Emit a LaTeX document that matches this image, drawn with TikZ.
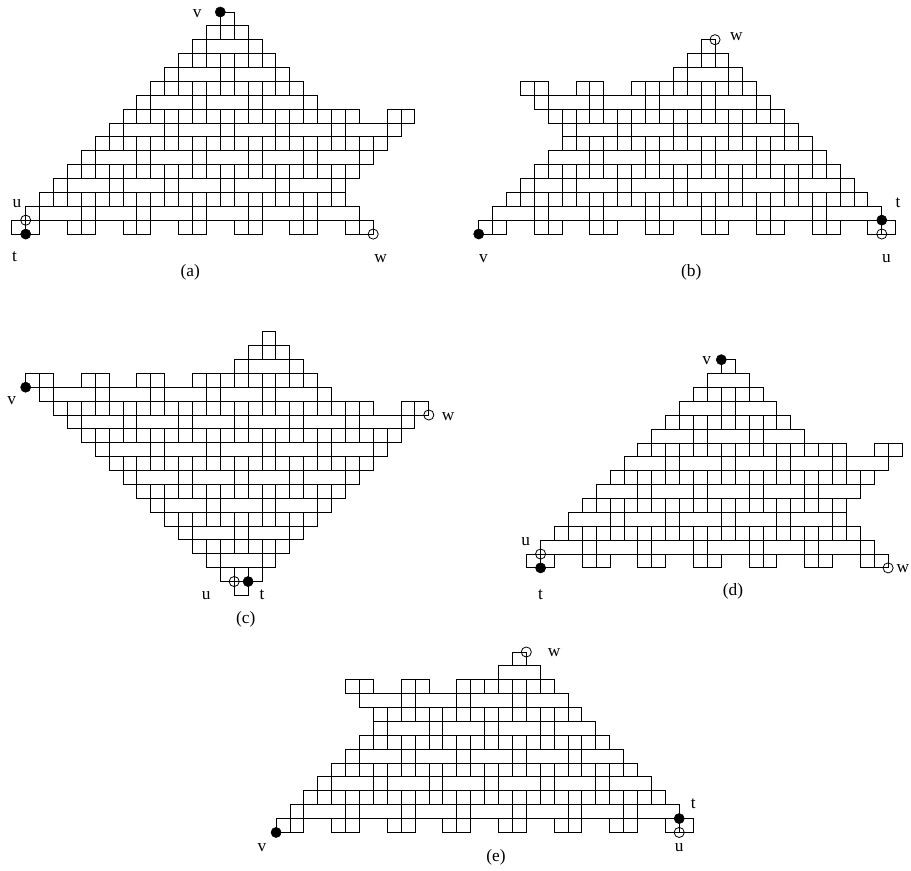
\documentclass[tikz,border=0pt]{standalone}
\usepackage{fontspec}
\setmainfont{Liberation Serif}
\usetikzlibrary{positioning}

% one row of bricks: row, horizontal pieces, columns of the verticals below it
\newcommand{\brickrow}[3]{%
  \foreach \from/\upto in {#2}{\draw[wall] (\from,#1) -- (\upto,#1);}%
  \foreach \col in {#3}{\draw[wall] (\col,#1) -- (\col,#1+1);}%
}
\newcommand{\bricklast}[2]{%
  \foreach \from/\upto in {#2}{\draw[wall] (\from,#1) -- (\upto,#1);}%
}

\begin{document}
\begin{tikzpicture}[
    x=0.75pt, y=-0.75pt,
    panel/.style={shift={#1}, x=10.425pt, y=-10.41pt},
    wall/.style={line width=0.65pt, black, line cap=rect},
    blackdot/.style={circle, fill=black, draw=black, inner sep=0pt, minimum size=7.6pt},
    whitedot/.style={circle, draw=black, line width=0.6pt, inner sep=0pt, minimum size=7.6pt},
    lbl/.style={inner sep=0pt, font=\fontsize{13}{13}\selectfont}
]
    \useasboundingbox (0,0) rectangle (911,871);

    % (a)
    \begin{scope}[panel={(220.3,12)}]
        \brickrow{0}{0/1}{0,1}
        \brickrow{1}{-1/2}{-1,...,2}
        \brickrow{2}{-2/3}{-2,-1,2,3}
        \brickrow{3}{-3/4}{-3,...,4}
        \brickrow{4}{-4/5}{-4,-3,0,1,4,5}
        \brickrow{5}{-5/6}{-5,...,6}
        \brickrow{6}{-6/7}{-6,-5,-2,-1,2,3,6,7}
        \brickrow{7}{-7/10,12/14}{-7,...,10,12,13,14}
        \brickrow{8}{-8/14}{-8,-7,-4,-3,0,1,4,5,8,9,12,13}
        \brickrow{9}{-9/13}{-9,...,12}
        \brickrow{10}{-10/12}{-10,-9,-6,-5,-2,-1,2,3,6,7,10,11}
        \brickrow{11}{-11/11}{-11,...,10}
        \brickrow{12}{-12/10}{-12,-11,-8,-7,-4,-3,0,1,4,5,8,9}
        \brickrow{13}{-13/9}{-13,...,9}
        \brickrow{14}{-14/10}{-14,-13,-10,-9,-6,-5,-2,-1,2,3,6,7,10}
        \brickrow{15}{-15/11}{-15,-14,-13,-11,-10,-9,-7,-6,-5,-3,-2,-1,1,2,3,5,6,7,9,10,11}
        \bricklast{16}{-15/-13,-11/-9,-7/-5,-3/-1,1/3,5/7,9/11}
        \node[blackdot] (va) at (0,0) {};
        \node[whitedot] (ua) at (-14,15) {};
        \node[blackdot] (ta) at (-14,16) {};
        \node[whitedot] (wa) at (11,16) {};
        \node[lbl, left=9.8pt of va, yshift=-1.5pt] (lva) {v};
        \node[lbl, above=5.4pt of ua, xshift=-6.5pt] (lua) {u};
        \node[lbl, below=9.2pt of ta, xshift=-8.4pt] (lta) {t};
        \node[lbl, below=11pt of wa, xshift=5.5pt] (lwa) {w};
    \end{scope}
    \node[lbl] (capa) at (190.3,272) {(a)};

    % (b)
    \begin{scope}[panel={(715,39.7)}]
        \brickrow{0}{-1/0}{-1,0}
        \brickrow{1}{-2/1}{-2,...,1}
        \brickrow{2}{-3/2}{-3,-2,1,2}
        \brickrow{3}{-14/-12,-10/-8,-6/3}{-14,-13,-12,-10,-9,-8,-6,-5,-4,-3,-2,-1,0,1,2,3}
        \brickrow{4}{-14/4}{-13,-12,-9,-8,-5,-4,-1,0,3,4}
        \brickrow{5}{-13/5}{-12,...,5}
        \brickrow{6}{-12/6}{-11,-10,-7,-6,-3,-2,1,2,5,6}
        \brickrow{7}{-11/7}{-11,...,7}
        \brickrow{8}{-12/8}{-12,-9,-8,-5,-4,-1,0,3,4,7,8}
        \brickrow{9}{-13/9}{-13,...,9}
        \brickrow{10}{-14/10}{-14,-13,-11,-10,-7,-6,-3,-2,1,2,5,6,9,10}
        \brickrow{11}{-15/11}{-15,...,11}
        \brickrow{12}{-16/12}{-16,-13,-12,-9,-8,-5,-4,-1,0,3,4,7,8,12}
        \brickrow{13}{-17/13}{-17,-16,-15,-13,-12,-11,-9,-8,-7,-5,-4,-3,-1,0,1,3,4,5,7,8,9,11,12,13}
        \bricklast{14}{-17/-15,-13/-11,-9/-7,-5/-3,-1/1,3/5,7/9,11/13}
        \node[whitedot] (wb) at (0,0) {};
        \node[blackdot] (tb) at (12,13) {};
        \node[whitedot] (ub) at (12,14) {};
        \node[blackdot] (vb) at (-17,14) {};
        \node[lbl, right=7pt of wb, yshift=2pt] (lwb) {w};
        \node[lbl, above=5.4pt of tb, xshift=12.2pt] (ltb) {t};
        \node[lbl, below=11pt of ub, xshift=3.5pt] (lub) {u};
        \node[lbl, below=11pt of vb, xshift=3.6pt] (lvb) {v};
    \end{scope}
    \node[lbl] (capb) at (691.3,272) {(b)};

    % (c)
    \begin{scope}[panel={(25.7,331.7)}]
        \brickrow{0}{17/18}{17,18}
        \brickrow{1}{16/19}{16,...,19}
        \brickrow{2}{15/20}{15,16,19,20}
        \brickrow{3}{0/2,4/6,8/10,12/21}{0,1,2,4,5,6,8,9,10,12,13,14,15,16,17,18,19,20,21}
        \brickrow{4}{0/22}{1,2,5,6,9,10,13,14,17,18,21,22}
        \brickrow{5}{1/25,27/29}{2,...,25,27,28,29}
        \brickrow{6}{2/29}{3,4,7,8,11,12,15,16,19,20,23,24,27,28}
        \brickrow{7}{3/28}{4,...,27}
        \brickrow{8}{4/27}{5,6,9,10,13,14,17,18,21,22,25,26}
        \brickrow{9}{5/26}{6,...,25}
        \brickrow{10}{6/25}{7,8,11,12,15,16,19,20,23,24}
        \brickrow{11}{7/24}{8,...,23}
        \brickrow{12}{8/23}{9,10,13,14,17,18,21,22}
        \brickrow{13}{9/22}{10,...,21}
        \brickrow{14}{10/21}{11,12,15,16,19,20}
        \brickrow{15}{11/20}{12,...,19}
        \brickrow{16}{12/19}{13,14,17,18}
        \brickrow{17}{13/18}{14,...,17}
        \brickrow{18}{14/17}{15,16}
        \bricklast{19}{15/16}
        \node[blackdot] (vc) at (0,4) {};
        \node[whitedot] (wc) at (29,6) {};
        \node[whitedot] (uc) at (15,18) {};
        \node[blackdot] (tc) at (16,18) {};
        \node[lbl, below=2.7pt of vc, xshift=-10.5pt] (lvc) {v};
        \node[lbl, right=5.5pt of wc, yshift=-1.5pt] (lwc) {w};
        \node[lbl, below=3.2pt of uc, xshift=-21pt] (luc) {u};
        \node[lbl, below=1.7pt of tc, xshift=10.4pt] (ltc) {t};
    \end{scope}
    \node[lbl] (capc) at (245.7,619.5) {(c)};

    % (d)
    \begin{scope}[panel={(721.3,359.7)}]
        \brickrow{0}{0/1}{0,1}
        \brickrow{1}{-1/2}{-1,2}
        \brickrow{2}{-2/3}{-2,...,3}
        \brickrow{3}{-3/4}{-3,0,1,4}
        \brickrow{4}{-4/5}{-4,...,5}
        \brickrow{5}{-5/6}{-5,-2,-1,2,3,6}
        \brickrow{6}{-6/9,11/13}{-6,...,9,11,12,13}
        \brickrow{7}{-7/13}{-7,-4,-3,0,1,4,5,8,9,12}
        \brickrow{8}{-8/12}{-8,...,11}
        \brickrow{9}{-9/11}{-9,-6,-5,-2,-1,2,3,6,7,10}
        \brickrow{10}{-10/10}{-10,...,9}
        \brickrow{11}{-11/9}{-11,-8,-7,-4,-3,0,1,4,5,8,9}
        \brickrow{12}{-12/10}{-12,...,10}
        \brickrow{13}{-13/11}{-13,-10,-9,-6,-5,-2,-1,2,3,6,7,10,11}
        \brickrow{14}{-14/12}{-14,-13,-12,-10,-9,-8,-6,-5,-4,-2,-1,0,2,3,4,6,7,8,10,11,12}
        \bricklast{15}{-14/-12,-10/-8,-6/-4,-2/0,2/4,6/8,10/12}
        \node[blackdot] (vd) at (0,0) {};
        \node[whitedot] (ud) at (-13,14) {};
        \node[blackdot] (td) at (-13,15) {};
        \node[whitedot] (wd) at (12,15) {};
        \node[lbl, left=3.5pt of vd, yshift=-1pt] (lvd) {v};
        \node[lbl, above=2.3pt of ud, xshift=-11.2pt] (lud) {u};
        \node[lbl, below=11.9pt of td] (ltd) {t};
        \node[lbl, right=2pt of wd, yshift=-0.8pt] (lwd) {w};
    \end{scope}
    \node[lbl] (capd) at (733,591) {(d)};

    % (e)
    \begin{scope}[panel={(526.3,652)}]
        \brickrow{0}{-1/0}{-1,0}
        \brickrow{1}{-2/1}{-2,1}
        \brickrow{2}{-13/-11,-9/-7,-5/2}{-13,-12,-11,-9,-8,-7,-5,-4,-3,-2,-1,0,1,2}
        \brickrow{3}{-13/3}{-12,-9,-8,-5,-4,-1,0,3}
        \brickrow{4}{-12/4}{-11,...,4}
        \brickrow{5}{-11/5}{-11,-10,-7,-6,-3,-2,1,2,5}
        \brickrow{6}{-12/6}{-12,...,6}
        \brickrow{7}{-13/7}{-13,-12,-9,-8,-5,-4,-1,0,3,4,7}
        \brickrow{8}{-14/8}{-14,...,8}
        \brickrow{9}{-15/9}{-15,-14,-11,-10,-7,-6,-3,-2,1,2,5,6,9}
        \brickrow{10}{-16/10}{-16,...,10}
        \brickrow{11}{-17/11}{-17,-16,-13,-12,-9,-8,-5,-4,-1,0,3,4,7,8,11}
        \brickrow{12}{-18/12}{-18,-17,-16,-14,-13,-12,-10,-9,-8,-6,-5,-4,-2,-1,0,2,3,4,6,7,8,10,11,12}
        \bricklast{13}{-18/-16,-14/-12,-10/-8,-6/-4,-2/0,2/4,6/8,10/12}
        \node[whitedot] (we) at (0,0) {};
        \node[blackdot] (te) at (11,12) {};
        \node[whitedot] (ue) at (11,13) {};
        \node[blackdot] (ve) at (-18,13) {};
        \node[lbl, right=11.9pt of we, yshift=-0.8pt] (lwe) {w};
        \node[lbl, above=3pt of te, xshift=10.6pt] (lte) {t};
        \node[lbl, below=4pt of ue] (lue) {u};
        \node[lbl, below=4pt of ve, xshift=-10.7pt] (lve) {v};
    \end{scope}
    \node[lbl] (cape) at (496,857.5) {(e)};
\end{tikzpicture}
\end{document}
